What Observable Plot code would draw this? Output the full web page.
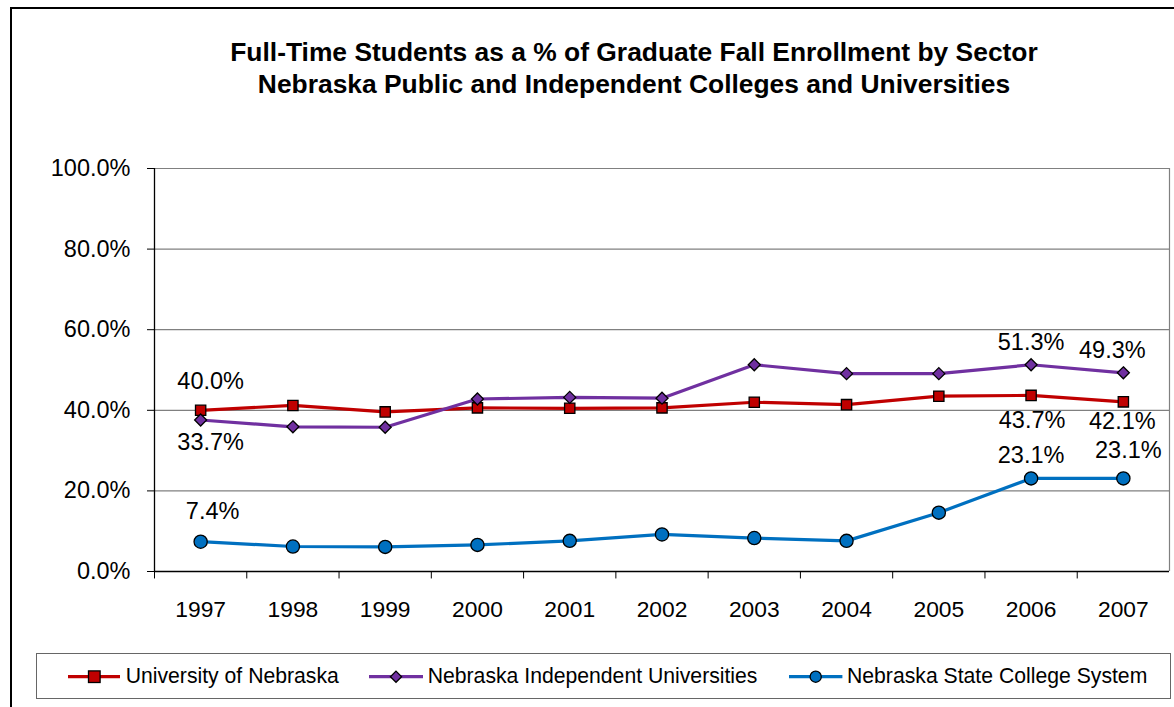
<!DOCTYPE html>
<html>
<head>
<meta charset="utf-8">
<script src="https://cdn.jsdelivr.net/npm/d3@7"></script>
<script src="https://cdn.jsdelivr.net/npm/@observablehq/plot@0.6"></script>
<style>
  html, body { margin: 0; padding: 0; background: #fff; }
  body { font-family: "Liberation Sans", Arial, sans-serif; }
  #wrap { position: relative; width: 1174px; height: 707px; overflow: hidden; background: #fff; }
  #border { position: absolute; left: 10px; top: 7px; width: 1300px; height: 800px; border: 2.6px solid #000; box-sizing: border-box; }
  #title { position: absolute; left: 34px; width: 1200px; top: 36px; text-align: center; font-weight: bold; font-size: 26.4px; line-height: 32px; color: #000; }
  #chart { position: absolute; left: 0; top: 0; }
  #legend { position: absolute; left: 36px; top: 653px; width: 1135px; height: 46px; border: 1.3px solid #666; box-sizing: border-box; background: #fff; }
  .li { position: absolute; top: 0; height: 46px; }
  .li svg { position: absolute; top: 0; }
  .li span { position: absolute; top: 8px; font-size: 21.2px; line-height: 28px; white-space: nowrap; color: #000; }
</style>
</head>
<body>
<div id="wrap">
  <div id="border"></div>
  <div id="chart"></div>
  <div id="title">Full-Time Students as a % of Graduate Fall Enrollment by Sector<br>Nebraska Public and Independent Colleges and Universities</div>
  <div id="legend"></div>
</div>
<script>
// ---- Data ----
const years = [1997, 1998, 1999, 2000, 2001, 2002, 2003, 2004, 2005, 2006, 2007];
const seriesNames = ["University of Nebraska", "Nebraska Independent Universities", "Nebraska State College System"];
const universityOfNebraska = [40.0, 41.2, 39.6, 40.6, 40.5, 40.6, 42.0, 41.4, 43.5, 43.7, 42.1];
const independentUniversities = [37.6, 35.9, 35.8, 42.8, 43.2, 43.0, 51.3, 49.1, 49.1, 51.3, 49.3];
const stateCollegeSystem = [7.4, 6.2, 6.1, 6.6, 7.6, 9.2, 8.3, 7.6, 14.6, 23.1, 23.1];
const yTicks = [0, 20, 40, 60, 80, 100];
// data labels shown on the chart (series index, year, text)
const labelSeries = [0, 1, 2, 1, 0, 2, 1, 0, 2];
const labelYears = [1997, 1997, 1997, 2006, 2006, 2006, 2007, 2007, 2007];
const labelTexts = ["40.0%", "33.7%", "7.4%", "51.3%", "43.7%", "23.1%", "49.3%", "42.1%", "23.1%"];

// ---- Styles ----
const colors = ["#C00000", "#7030A0", "#0070C0"];
const symbols = ["square", "diamond2", "circle"];
const symbolR = [5.8, 5.4, 6.6];
const labelOffsets = [[10, -29], [10, 22], [12, -30], [0, -22], [1, 25], [0, -23], [-11, -22], [-1, 20], [5, -28]];

const seriesValues = [universityOfNebraska, independentUniversities, stateCollegeSystem];
const rows = [];
seriesValues.forEach((vals, s) => vals.forEach((v, i) => rows.push({series: seriesNames[s], s, year: years[i], value: v})));

const boundaries = [years[0] - 0.5, ...years.map(y => y + 0.5)];
const xDomain = [years[0] - 0.5, years[years.length - 1] + 0.5];

const labelMarks = labelTexts.map((t, k) => {
  const s = labelSeries[k];
  const i = years.indexOf(labelYears[k]);
  const d = {year: labelYears[k], value: seriesValues[s][i], text: t};
  return Plot.text([d], {x: "year", y: "value", text: "text", dx: labelOffsets[k][0], dy: labelOffsets[k][1], fontSize: 23.5, fill: "#000"});
});

const font = '"Liberation Sans", Arial, sans-serif';

const chart = Plot.plot({
  width: 1174,
  height: 640,
  marginLeft: 154,
  marginRight: 5,
  marginTop: 168,
  marginBottom: 69,
  style: {fontFamily: font, fontSize: "23.5px", color: "#000", background: "transparent", overflow: "visible"},
  x: {type: "linear", domain: xDomain},
  y: {domain: [0, 100]},
  marks: [
    Plot.gridY(yTicks.filter(t => t > 0), {stroke: "#808080", strokeOpacity: 1, strokeWidth: 1.2}),
    Plot.ruleX([xDomain[1]], {y1: 0, y2: 100, stroke: "#808080", strokeWidth: 1.2}),
    Plot.ruleX(boundaries.slice(0, -1), {y1: 0, y2: -1.85, stroke: "#000", strokeWidth: 1}),
    Plot.ruleX([xDomain[0]], {y1: 0, y2: 100, stroke: "#000", strokeWidth: 1.3}),
    Plot.ruleY([0], {stroke: "#000", strokeWidth: 1.3}),
    Plot.axisY({ticks: yTicks, tickFormat: d => d.toFixed(1) + "%", tickSize: 7, tickPadding: 17, label: null, fontSize: 23.5}),
    Plot.axisX({ticks: years, tickFormat: d => String(d), tickSize: 0, tickPadding: 29, label: null, fontSize: 22.8}),
    ...seriesNames.map((name, s) => Plot.line(rows.filter(r => r.s === s), {x: "year", y: "value", stroke: colors[s], strokeWidth: 3.2})),
    ...seriesNames.map((name, s) => Plot.dot(rows.filter(r => r.s === s), {x: "year", y: "value", symbol: symbols[s], r: symbolR[s], fill: colors[s], stroke: "#000", strokeWidth: 1.3})),
    ...labelMarks
  ]
});
document.getElementById("chart").appendChild(chart);

// ---- Legend ----
const legend = document.getElementById("legend");
const legendItems = [
  {lineX: 30.7, lineW: 52.6, textX: 88.7},
  {lineX: 332.3, lineW: 54, textX: 390.7},
  {lineX: 752.3, lineW: 53.4, textX: 810}
];
seriesNames.forEach((name, s) => {
  const it = legendItems[s];
  const div = document.createElement("div");
  div.className = "li";
  div.style.left = "0px";
  const w = it.lineW;
  const cx = w / 2;
  let marker;
  if (s === 0) marker = `<rect x="${cx - 5.8}" y="${22.7 - 5.8}" width="11.6" height="11.6" fill="${colors[s]}" stroke="#000" stroke-width="1.3"/>`;
  else if (s === 1) marker = `<path d="M${cx},${22.7 - 5.6} L${cx + 5.6},22.7 L${cx},${22.7 + 5.6} L${cx - 5.6},22.7 Z" fill="${colors[s]}" stroke="#000" stroke-width="1.3"/>`;
  else marker = `<circle cx="${cx}" cy="22.7" r="5.6" fill="${colors[s]}" stroke="#000" stroke-width="1.3"/>`;
  div.innerHTML = `<svg width="${w}" height="46" style="left:${it.lineX}px"><line x1="0" x2="${w}" y1="22.7" y2="22.7" stroke="${colors[s]}" stroke-width="3.2"/>${marker}</svg><span style="left:${it.textX}px">${name}</span>`;
  legend.appendChild(div);
});
</script>
</body>
</html>
